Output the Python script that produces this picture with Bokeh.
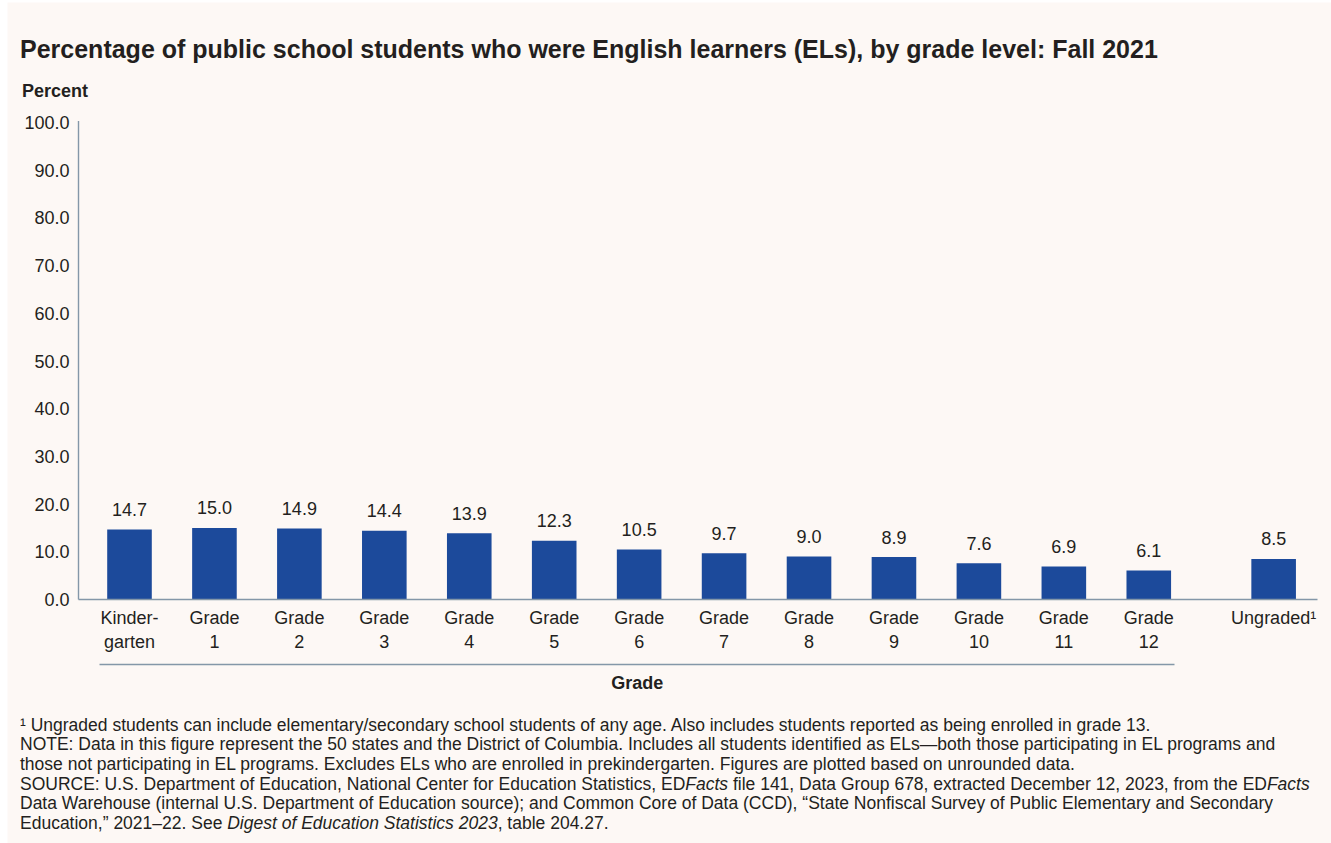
from bokeh.plotting import figure
from bokeh.models import ColumnDataSource, FixedTicker, NumeralTickFormatter, Label
from bokeh.core.properties import value
from bokeh.embed import file_html
from bokeh.resources import INLINE

# ---------------- data ----------------
grades = ["Kindergarten", "Grade 1", "Grade 2", "Grade 3", "Grade 4", "Grade 5", "Grade 6",
          "Grade 7", "Grade 8", "Grade 9", "Grade 10", "Grade 11", "Grade 12", "Ungraded"]
tick_labels = ["Kinder-\ngarten", "Grade\n1", "Grade\n2", "Grade\n3", "Grade\n4", "Grade\n5",
               "Grade\n6", "Grade\n7", "Grade\n8", "Grade\n9", "Grade\n10", "Grade\n11",
               "Grade\n12", "Ungraded\u00b9"]
percent = [14.7, 15.0, 14.9, 14.4, 13.9, 12.3, 10.5, 9.7, 9.0, 8.9, 7.6, 6.9, 6.1, 8.5]
y_ticks = [0, 10, 20, 30, 40, 50, 60, 70, 80, 90, 100]

title_text = "Percentage of public school students who were English learners (ELs), by grade level: Fall 2021"
y_title = "Percent"
x_title = "Grade"

footnotes = [
    [("\u00b9 Ungraded students can include elementary/secondary school students of any age. "
      "Also includes students reported as being enrolled in grade 13.", False)],
    [("NOTE: Data in this figure represent the 50 states and the District of Columbia. Includes all "
      "students identified as ELs\u2014both those participating in EL programs and", False)],
    [("those not participating in EL programs. Excludes ELs who are enrolled in prekindergarten. "
      "Figures are plotted based on unrounded data.", False)],
    [("SOURCE: U.S. Department of Education, National Center for Education Statistics, ED", False),
     ("Facts", True),
     (" file 141, Data Group 678, extracted December 12, 2023, from the ED", False),
     ("Facts", True)],
    [("Data Warehouse (internal U.S. Department of Education source); and Common Core of Data (CCD), "
      "\u201cState Nonfiscal Survey of Public Elementary and Secondary", False)],
    [("Education,\u201d 2021\u201322. See ", False),
     ("Digest of Education Statistics 2023", True),
     (", table 204.27.", False)],
]

# ---------------- layout / style ----------------
BG = "#FDF8F5"
BAR = "#1C4A9B"
AXIS = "#8497A8"
TXT = "#231F20"
FONT = "Liberation Sans"

W, H = 1331, 843
FL, FT = 7, 2                 # frame left / top offsets (white page strip)
PX_X, PX_Y = 84.94, 4.77      # pixels per data unit
X0_PIX, Y0_PIX = 129, 599     # pixel position of first bar centre / zero line

GAP = 0.47
xpos = [float(i) for i in range(len(grades) - 1)] + [len(grades) - 1 + GAP]

x_start = -(X0_PIX - FL) / PX_X
x_end = x_start + (W - FL) / PX_X
y_end = (Y0_PIX - FT) / PX_Y
y_start = y_end - (H - FT) / PX_Y

def dx(px):   # pixel -> data x
    return x_start + (px - FL) / PX_X

def dy(py):   # pixel -> data y
    return y_end - (py - FT) / PX_Y

# Arial / Liberation Sans advance widths (1/1000 em) for chaining mixed-style text pieces
_AW = {' ': 278, '!': 278, '"': 355, '#': 556, '$': 556, '%': 889, '&': 667, "'": 191, '(': 333,
       ')': 333, '*': 389, '+': 584, ',': 278, '-': 333, '.': 278, '/': 278, ':': 278, ';': 278,
       '?': 556, '@': 1015, 'A': 667, 'B': 667, 'C': 722, 'D': 722, 'E': 667, 'F': 611, 'G': 778,
       'H': 722, 'I': 278, 'J': 500, 'K': 667, 'L': 556, 'M': 833, 'N': 722, 'O': 778, 'P': 667,
       'Q': 778, 'R': 722, 'S': 667, 'T': 611, 'U': 722, 'V': 667, 'W': 944, 'X': 667, 'Y': 667,
       'Z': 611, 'a': 556, 'b': 556, 'c': 500, 'd': 556, 'e': 556, 'f': 278, 'g': 556, 'h': 556,
       'i': 222, 'j': 222, 'k': 500, 'l': 222, 'm': 833, 'n': 556, 'o': 556, 'p': 556, 'q': 556,
       'r': 333, 's': 500, 't': 278, 'u': 556, 'v': 500, 'w': 722, 'x': 500, 'y': 500, 'z': 500,
       '\u201c': 333, '\u201d': 333, '\u2013': 556, '\u2014': 1000, '\u00b9': 333}

def text_w(s, fs):
    return sum(_AW.get(c, 556) for c in s) * fs / 1000.0

src = ColumnDataSource(dict(x=xpos, top=percent, grade=grades,
                            lab=["%.1f" % v for v in percent]))

p = figure(width=W, height=H, x_range=(x_start, x_end), y_range=(y_start, y_end),
           output_backend="svg", toolbar_location=None,
           min_border_left=FL, min_border_right=0, min_border_top=FT, min_border_bottom=0,
           background_fill_color=BG, border_fill_color="white", outline_line_color=None)

p.vbar(x="x", top="top", width=0.525, source=src, fill_color=BAR, line_color=None)
p.text(x="x", y="top", text="lab", source=src, y_offset=-20, text_align="center",
       text_baseline="alphabetic", text_font=value(FONT), text_font_size="18px", text_color=TXT)

p.xgrid.grid_line_color = None
p.ygrid.grid_line_color = None

# axis lines (drawn as glyphs so they stop where the reference's stop)
ax_left = dx(78)
p.segment(x0=[ax_left], y0=[0], x1=[dx(1317)], y1=[0], line_color=AXIS, line_width=1.6)
p.segment(x0=[ax_left], y0=[0], x1=[ax_left], y1=[100.3], line_color=AXIS, line_width=1.4)
# bracket line under the grade labels
p.segment(x0=[dx(99)], y0=[dy(664)], x1=[dx(1174)], y1=[dy(664)], line_color=AXIS, line_width=1.6)

xa = p.xaxis[0]
xa.fixed_location = 0
xa.ticker = FixedTicker(ticks=xpos)
xa.major_label_overrides = {k: v for k, v in zip(xpos, tick_labels)}
xa.axis_line_color = None
xa.major_tick_line_color = None
xa.minor_tick_line_color = None
xa.major_tick_out = 0
xa.major_label_standoff = 8
xa.major_label_text_font = FONT
xa.major_label_text_font_size = "18px"
xa.major_label_text_color = TXT

ya = p.yaxis[0]
ya.fixed_location = ax_left
ya.ticker = FixedTicker(ticks=y_ticks)
ya.formatter = NumeralTickFormatter(format="0.0")
ya.axis_line_color = None
ya.major_tick_line_color = None
ya.minor_tick_line_color = None
ya.major_tick_out = 0
ya.major_label_standoff = 9
ya.major_label_text_font = FONT
ya.major_label_text_font_size = "18px"
ya.major_label_text_color = TXT

def lab(x, y, text, fs=17.5, style="normal", align="left"):
    # y is the wanted baseline in page pixels; compensate the renderer's baseline drop
    yb = y - 0.37 * fs
    p.add_layout(Label(x=x - FL, y=H - yb, x_units="screen", y_units="screen", text=text,
                       text_font=FONT, text_font_size="%gpx" % fs, text_font_style=style,
                       text_color=TXT, text_align=align, text_baseline="alphabetic"))

lab(19.5, 57.5, title_text, fs=25, style="bold")
lab(21.5, 97.3, y_title, fs=18, style="bold")
lab(636.7, 689, x_title, fs=18, style="bold", align="center")

FS_FOOT = 17.5
base = [730.7, 750.3, 769.9, 789.5, 809.1, 828.7]
for line, yb in zip(footnotes, base):
    x0 = 19.5
    for text, ital in line:
        stripped = text.lstrip(" ")
        lead = text[:len(text) - len(stripped)]      # SVG drops leading blanks: shift instead
        lab(x0 + text_w(lead, FS_FOOT), yb, stripped.rstrip(" "), fs=FS_FOOT,
            style="italic" if ital else "normal")
        x0 += text_w(text, FS_FOOT)

open("out.html", "w").write(file_html(p, INLINE))
